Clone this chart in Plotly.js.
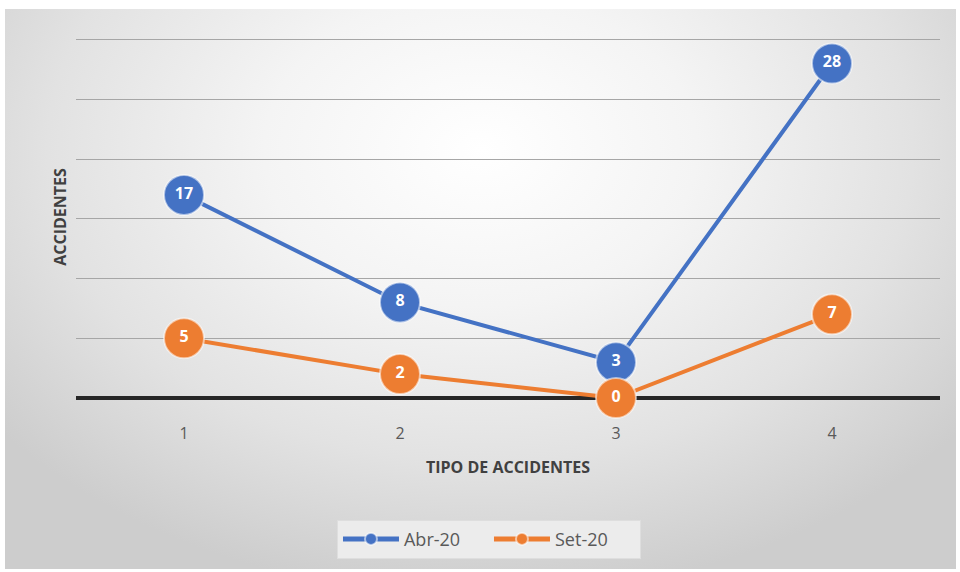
<!DOCTYPE html>
<html>
<head>
<meta charset="utf-8">
<script src="https://cdn.plot.ly/plotly-3.0.1.min.js"></script>
<style>
  html, body { margin:0; padding:0; background:#ffffff; }
  #wrap { position:relative; width:960px; height:572px; overflow:hidden; }
  #bg { position:absolute; left:5px; top:9px; width:951px; height:560px;
        background: radial-gradient(ellipse 65% 80% at 50% 25%, #ffffff 0%, #f4f4f4 35%, #e2e2e2 70%, #cdcdcd 100%); }
  #chart { position:absolute; left:0; top:0; width:960px; height:572px; }
</style>
</head>
<body>
<div id="wrap"><div id="bg"></div><div id="chart"></div></div>
<script>
const categories = [1, 2, 3, 4];
const seriesNames = ["Abr-20", "Set-20"];
const abr20 = [17, 8, 3, 28];
const set20 = [5, 2, 0, 7];
const colors = ["#4472C4", "#ED7D31"];

function trace(name, vals, color) {
  return {
    x: categories, y: vals, name: name, type: "scatter",
    mode: "lines+markers+text",
    text: vals.map(String),
    textposition: "middle center",
    textfont: { family: "Open Sans, sans-serif", size: 16, color: "#ffffff", weight: 700 },
    line: { color: color, width: 4 },
    marker: { color: color, size: 40, line: { color: "rgba(255,255,255,0.55)", width: 2 } },
    cliponaxis: false
  };
}

const data = [trace(seriesNames[0], abr20, colors[0]), trace(seriesNames[1], set20, colors[1])];

const layout = {
  width: 960, height: 572,
  margin: { l: 76, r: 20, t: 36, b: 174 },
  paper_bgcolor: "rgba(0,0,0,0)",
  plot_bgcolor: "rgba(0,0,0,0)",
  font: { family: "Open Sans, sans-serif", color: "#595959" },
  showlegend: true,
  xaxis: {
    range: [0.5, 4.5], tickvals: categories, ticktext: categories.map(String),
    showgrid: false, zeroline: false, showline: false, ticks: "",
    ticklabelstandoff: 24,
    tickfont: { size: 16, color: "#595959" },
    title: { text: "TIPO DE ACCIDENTES", font: { size: 16, color: "#404040", weight: 700 }, standoff: 18 }
  },
  yaxis: {
    range: [0, 30.3], tickvals: [5, 10, 15, 20, 25, 30], showticklabels: false, ticks: "",
    showgrid: true, gridcolor: "#a6a6a6", gridwidth: 1,
    zeroline: true, zerolinecolor: "#262626", zerolinewidth: 4,
    showline: false,
    title: { text: "ACCIDENTES", font: { size: 16, color: "#404040", weight: 700 }, standoff: 4 }
  },
  legend: {
    orientation: "h", x: 0.478, xanchor: "center", y: -0.39, yanchor: "middle",
    bgcolor: "#ececec", bordercolor: "#dedede", borderwidth: 1,
    font: { size: 18, color: "#595959" },
    itemsizing: "constant",
    itemwidth: 56,
    entrywidth: 80
  }
};

Plotly.newPlot("chart", data, layout, { displayModeBar: false, staticPlot: true });
</script>
</body>
</html>
